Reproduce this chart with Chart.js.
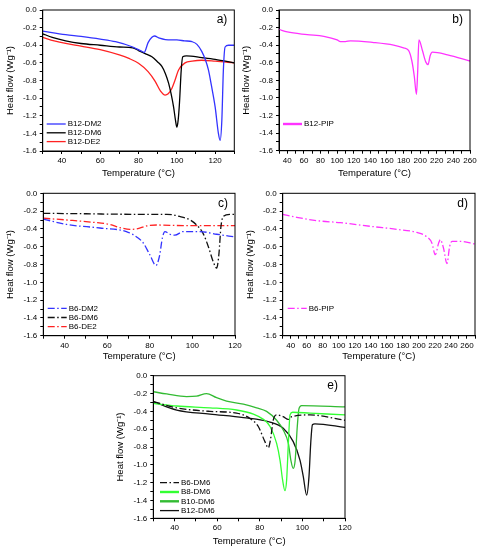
<!DOCTYPE html>
<html>
<head>
<meta charset="utf-8">
<script src="https://cdn.jsdelivr.net/npm/chart.js@4.4.1/dist/chart.umd.min.js"></script>
<style>
  body { margin: 0; background: #fff; }
  #wrap { position: relative; width: 480px; height: 550px; }
  #wrap canvas { position: absolute; left: 0; top: 0; }
</style>
</head>
<body>
<div id="wrap">
  <canvas id="pa" width="480" height="550"></canvas>
  <canvas id="pb" width="480" height="550"></canvas>
  <canvas id="pc" width="480" height="550"></canvas>
  <canvas id="pd" width="480" height="550"></canvas>
  <canvas id="pe" width="480" height="550"></canvas>
</div>
<script>
// ---- panel a) : B12 series ----
const tB12DM2 = [30, 42, 50, 60, 68, 77, 81, 83, 85, 87, 88.3, 91, 94, 100, 104, 108, 110.5, 113, 115, 116.5, 118, 120, 121.7, 122.6, 123.5, 124.3, 125.2, 127, 130];
const hB12DM2 = [-0.24, -0.28, -0.30, -0.33, -0.36, -0.42, -0.46, -0.48, -0.37, -0.31, -0.295, -0.32, -0.335, -0.34, -0.35, -0.36, -0.39, -0.47, -0.57, -0.68, -0.85, -1.10, -1.40, -1.48, -1.25, -0.68, -0.42, -0.40, -0.40];
const tB12DM6 = [30, 35, 42, 50, 60, 70, 77, 80, 84, 87, 90, 92.2, 94, 95.7, 97, 98.3, 99.3, 100, 100.7, 101.4, 102.3, 103.1, 105, 113, 120, 130];
const hB12DM6 = [-0.27, -0.31, -0.35, -0.38, -0.40, -0.42, -0.43, -0.46, -0.50, -0.53, -0.59, -0.64, -0.72, -0.83, -0.95, -1.10, -1.25, -1.33, -1.25, -1.05, -0.68, -0.53, -0.52, -0.54, -0.56, -0.60];
const tB12DE2 = [30, 36, 42, 50, 60, 70, 75, 80, 85, 88.7, 91.5, 93.9, 95.5, 97.4, 99, 100.9, 104.3, 108, 113, 120, 130];
const hB12DE2 = [-0.31, -0.35, -0.38, -0.41, -0.45, -0.51, -0.55, -0.605, -0.70, -0.81, -0.92, -0.965, -0.95, -0.89, -0.80, -0.68, -0.60, -0.58, -0.57, -0.58, -0.60];

// ---- panel b) ----
const tB12PIP = [30, 40, 64, 84, 100, 104, 110, 116, 144, 168, 180, 186, 190, 193, 195.5, 197, 198.5, 202.7, 206.7, 209.5, 212, 214.7, 233, 260];
const hB12PIP = [-0.22, -0.25, -0.28, -0.30, -0.34, -0.36, -0.36, -0.35, -0.37, -0.40, -0.43, -0.46, -0.58, -0.76, -0.96, -0.70, -0.34, -0.46, -0.59, -0.62, -0.52, -0.48, -0.51, -0.58];

// ---- panel c) : B6 series ----
const tB6DM2 = [30, 41, 56.6, 69, 73.8, 77, 80, 82.9, 84.5, 86, 87.1, 89.5, 91.8, 95.7, 103.5, 111.4, 120];
const hB6DM2 = [-0.29, -0.35, -0.39, -0.43, -0.49, -0.56, -0.69, -0.81, -0.71, -0.49, -0.43, -0.46, -0.47, -0.43, -0.43, -0.46, -0.49];
const tB6DM6 = [30, 50, 72, 88, 94, 99, 102, 105, 107.5, 109.8, 111.4, 112.5, 113.4, 114.5, 117.6, 120];
const hB6DM6 = [-0.225, -0.23, -0.236, -0.236, -0.26, -0.30, -0.356, -0.45, -0.60, -0.77, -0.84, -0.67, -0.375, -0.26, -0.236, -0.236];
const tB6DE2 = [30, 41, 53.5, 61.3, 66, 70.7, 73.8, 78.5, 83.2, 95.7, 120];
const hB6DE2 = [-0.28, -0.30, -0.326, -0.35, -0.386, -0.405, -0.40, -0.367, -0.356, -0.363, -0.363];

// ---- panel d) ----
const tB6PIP = [30, 47.5, 72.5, 101.7, 143.3, 172.5, 197.5, 210, 216.3, 220.4, 224.6, 226.7, 230.8, 235, 238.3, 241.3, 251.7, 270];
const hB6PIP = [-0.236, -0.27, -0.307, -0.33, -0.375, -0.405, -0.44, -0.49, -0.56, -0.69, -0.56, -0.52, -0.62, -0.79, -0.60, -0.54, -0.54, -0.57];

// ---- panel e) : DM6 series ----
const tE_B6 = [30, 41, 56.6, 69.1, 75.4, 79.3, 82.4, 84, 85, 86.3, 87.9, 91, 93.4, 95, 103.6, 120];
const hE_B6 = [-0.29, -0.36, -0.40, -0.42, -0.48, -0.57, -0.74, -0.81, -0.72, -0.50, -0.44, -0.46, -0.49, -0.46, -0.44, -0.50];
const tE_B8 = [30, 41, 56.6, 69.1, 77, 81.7, 84.8, 87.9, 89.5, 90.7, 91.8, 92.6, 93.4, 94.2, 95.4, 103.6, 120];
const hE_B8 = [-0.31, -0.34, -0.36, -0.385, -0.43, -0.49, -0.57, -0.76, -0.95, -1.17, -1.29, -1.17, -0.76, -0.44, -0.41, -0.42, -0.44];
const tE_B10 = [30, 36.3, 45.6, 50.3, 55, 59.7, 64.4, 72.3, 78.5, 83.2, 87.9, 91, 93.4, 94.6, 95.7, 96.6, 97.6, 98.4, 99.6, 120];
const hE_B10 = [-0.18, -0.205, -0.235, -0.23, -0.20, -0.247, -0.284, -0.32, -0.36, -0.40, -0.50, -0.61, -0.76, -0.95, -1.04, -0.95, -0.57, -0.37, -0.336, -0.35];
const tE_B12 = [30, 41, 56.6, 72.3, 84.8, 91, 95.7, 98.9, 100.4, 102, 103.1, 103.9, 104.7, 105.9, 120];
const hE_B12 = [-0.29, -0.385, -0.43, -0.47, -0.52, -0.59, -0.74, -0.95, -1.13, -1.34, -1.13, -0.76, -0.55, -0.54, -0.58];

const yTitle = 'Heat flow (Wg\u207B\u00B9)';
const xTitle = 'Temperature (\u00B0C)';
const FONT = '"Liberation Sans", Arial, sans-serif';
const DASHDOT = [7, 2.5, 1.5, 2.5];

Chart.defaults.font.family = FONT;
Chart.defaults.color = '#000';

function pts(t, h) {
    return t.map((x, i) => ({ x: x, y: h[i] }));
}

function series(label, t, h, color, dash, legendWidth) {
    return {
        label: label,
        data: pts(t, h),
        borderColor: color,
        borderWidth: 1.3,
        borderDash: dash || [],
        legendWidth: legendWidth || 1.3,
        pointRadius: 0,
        cubicInterpolationMode: 'monotone',
        fill: false
    };
}

// box around plot, panel letter and the in-plot legend
const framePlugin = {
    id: 'frame',
    afterDraw(chart, args, opts) {
        const ctx = chart.ctx;
        const ca = chart.chartArea;
        ctx.save();
        ctx.strokeStyle = '#000';
        ctx.lineWidth = 1;
        ctx.strokeRect(ca.left, ca.top, ca.right - ca.left, ca.bottom - ca.top);

        ctx.font = '12px ' + FONT;
        ctx.fillStyle = '#000';
        ctx.textAlign = 'right';
        ctx.textBaseline = 'middle';
        ctx.fillText(opts.letter, ca.right - 7, ca.top + 10);

        const lg = opts.legend;
        ctx.font = '8px ' + FONT;
        ctx.textAlign = 'left';
        chart.data.datasets.forEach((ds, i) => {
            const y = lg.y + i * lg.gap;
            ctx.beginPath();
            ctx.strokeStyle = ds.borderColor;
            ctx.lineWidth = ds.legendWidth;
            ctx.setLineDash(ds.borderDash);
            ctx.moveTo(lg.x, y);
            ctx.lineTo(lg.x + 19, y);
            ctx.stroke();
            ctx.setLineDash([]);
            ctx.fillStyle = '#000';
            ctx.fillText(ds.label, lg.x + 21, y);
        });
        ctx.restore();
    }
};

function makePanel(id, box, xMin, xMax, yTitleX, xTitleY, datasets, letter, legend) {
    const half = 11.4 / 2 + 3;
    const yW = box.l - yTitleX + half;
    const xH = xTitleY - box.b + half;
    new Chart(document.getElementById(id), {
        type: 'line',
        data: { datasets: datasets },
        plugins: [framePlugin],
        options: {
            responsive: false,
            animation: false,
            events: [],
            layout: {
                padding: { left: box.l - yW, top: box.t, right: 480 - box.r, bottom: 550 - box.b - xH }
            },
            plugins: {
                legend: { display: false },
                tooltip: { enabled: false },
                frame: { letter: letter, legend: legend }
            },
            scales: {
                x: {
                    type: 'linear',
                    min: xMin,
                    max: xMax,
                    afterFit(s) { s.height = xH; s.paddingLeft = 0; s.paddingRight = 0; },
                    ticks: {
                        stepSize: 10,
                        autoSkip: false,
                        maxRotation: 0,
                        padding: 2,
                        font: { size: 8 },
                        callback: v => (v % 20 === 0 ? String(v) : '')
                    },
                    grid: { drawOnChartArea: false, drawTicks: true, tickLength: 3, color: '#000' },
                    border: { display: true, color: '#000' },
                    title: { display: true, text: xTitle, font: { size: 9.5 }, padding: 3 }
                },
                y: {
                    type: 'linear',
                    min: -1.6,
                    max: 0,
                    afterFit(s) { s.width = yW; s.paddingTop = 0; s.paddingBottom = 0; },
                    ticks: {
                        stepSize: 0.1,
                        autoSkip: false,
                        padding: 3,
                        font: { size: 8 },
                        callback: v => (Math.round(v * 10) % 2 === 0 ? v.toFixed(1) : '')
                    },
                    grid: { drawOnChartArea: false, drawTicks: true, tickLength: 3, color: '#000' },
                    border: { display: true, color: '#000' },
                    title: { display: true, text: yTitle, font: { size: 9.5 }, padding: 3 }
                }
            }
        }
    });
}

window.onload = function () {
    makePanel('pa', { l: 42.7, t: 10, r: 234.3, b: 151 }, 30, 130, 10.7, 173.3, [
        series('B12-DM2', tB12DM2, hB12DM2, '#3333ff'),
        series('B12-DM6', tB12DM6, hB12DM6, '#000000'),
        series('B12-DE2', tB12DE2, hB12DE2, '#ff2222')
    ], 'a)', { x: 46.7, y: 124, gap: 8.8 });

    makePanel('pb', { l: 279, t: 10, r: 470, b: 150.7 }, 30, 260, 246, 173.3, [
        series('B12-PIP', tB12PIP, hB12PIP, '#ff33ff', null, 2.4)
    ], 'b)', { x: 283, y: 124, gap: 9 });

    makePanel('pc', { l: 43.3, t: 193.3, r: 235, b: 335.7 }, 30, 120, 10.7, 356, [
        series('B6-DM2', tB6DM2, hB6DM2, '#3333ff', DASHDOT),
        series('B6-DM6', tB6DM6, hB6DM6, '#111111', DASHDOT),
        series('B6-DE2', tB6DE2, hB6DE2, '#ff2222', DASHDOT)
    ], 'c)', { x: 47.7, y: 308.3, gap: 9.2 });

    makePanel('pd', { l: 282.7, t: 193.3, r: 475, b: 335.7 }, 30, 270, 250, 356, [
        series('B6-PIP', tB6PIP, hB6PIP, '#ff33ff', DASHDOT)
    ], 'd)', { x: 287.7, y: 308.3, gap: 9 });

    makePanel('pe', { l: 153.3, t: 375.7, r: 345, b: 518.3 }, 30, 120, 120, 541.7, [
        series('B6-DM6', tE_B6, hE_B6, '#111111', DASHDOT),
        series('B8-DM6', tE_B8, hE_B8, '#33ff33', null, 2.4),
        series('B10-DM6', tE_B10, hE_B10, '#33bb33', null, 2.4),
        series('B12-DM6', tE_B12, hE_B12, '#111111')
    ], 'e)', { x: 160, y: 482.7, gap: 9.3 });
};
</script>
</body>
</html>
